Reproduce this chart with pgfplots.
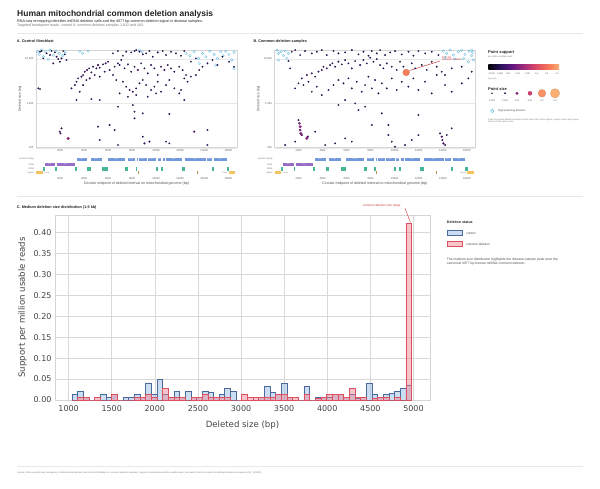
\documentclass[border=0pt]{standalone}
\usepackage{fontspec}
\setmainfont{Liberation Sans}
\newfontfamily\djv{DejaVu Sans}
\usepackage{pgfplots}
\pgfplotsset{compat=1.18}
\newcommand{\fs}[1]{\fontsize{#1}{#1}\selectfont}
\definecolor{txt}{HTML}{222222}
\definecolor{subt}{HTML}{777777}
\definecolor{framec}{HTML}{D5D5D5}
\definecolor{gridc}{HTML}{E8E8E8}
\definecolor{cyanc}{RGB}{95,185,225}
\definecolor{protc}{RGB}{115,152,222}
\definecolor{rrnac}{RGB}{150,110,200}
\definecolor{trnac}{RGB}{70,180,150}
\definecolor{dloopc}{RGB}{242,195,95}
\definecolor{annred}{RGB}{205,45,45}
\definecolor{ctrlfill}{RGB}{140,180,225}
\definecolor{ctrledge}{RGB}{75,105,155}
\definecolor{cdfill}{RGB}{240,125,140}
\definecolor{cdedge}{RGB}{220,80,95}
\definecolor{m0}{RGB}{0,0,4}
\definecolor{m1}{RGB}{40,17,90}
\definecolor{m2}{RGB}{100,22,128}
\definecolor{m3}{RGB}{160,45,125}
\definecolor{m4}{RGB}{215,70,105}
\definecolor{m5}{RGB}{245,115,85}
\definecolor{m6}{RGB}{252,175,115}
\pgfdeclarehorizontalshading{magmabar}{100bp}{color(0bp)=(m0); color(25bp)=(m0); color(33bp)=(m1); color(42bp)=(m2); color(50bp)=(m3); color(58bp)=(m4); color(67bp)=(m5); color(75bp)=(m6); color(100bp)=(m6)}
\pgfplotsset{colormap={mymagma}{rgb255(0cm)=(0,0,4) rgb255(1cm)=(40,17,90) rgb255(2cm)=(100,22,128) rgb255(3cm)=(160,45,125) rgb255(4cm)=(215,70,105) rgb255(5cm)=(245,115,85) rgb255(6cm)=(252,175,115)}}
\pgfplotsset{every axis/.append style={/pgf/number format/assume math mode=true}}
\pgfplotsset{mysupp/.style={scatter, only marks, mark=*,
    point meta={log10(\thisrow{s})},
    scatter/use mapped color={draw=mapped color!75!black, fill=mapped color},
    visualization depends on={0.3+8*sqrt(\thisrow{s})\as\msz},
    scatter/@pre marker code/.append style={/tikz/mark size=\msz},
    line width=0.12pt}}
\newcommand{\gene}[4]{\filldraw[fill=protc, draw=white, line width=0.12pt] (axis cs:#1,15.3) rectangle (axis cs:#2,18.7); \node[font=\fs{1.6}, text=white, inner sep=0] at (axis cs:#3,17) {#4};}
\newcommand{\trna}[2]{\filldraw[fill=trnac, draw=trnac, line width=0.25pt] (axis cs:#1,6) rectangle (axis cs:#2,9);}
\newcommand{\genetrack}{%
  \node[anchor=east, font=\fs{2.3}, text=subt, inner sep=0] at (axis cs:-150,17) {protein coding};
  \node[anchor=east, font=\fs{2.3}, text=subt, inner sep=0] at (axis cs:-150,11.75) {rRNA};
  \node[anchor=east, font=\fs{2.3}, text=subt, inner sep=0] at (axis cs:-150,7.5) {tRNA};
  \node[anchor=east, font=\fs{2.3}, text=subt, inner sep=0] at (axis cs:-150,3) {region};
  \gene{3307}{4262}{3785}{ND1}\gene{4470}{5511}{4990}{ND2}\gene{5904}{7445}{6675}{COX1}
  \gene{7586}{8269}{7928}{COX2}\gene{8366}{8572}{8470}{}\gene{8527}{9207}{8867}{ATP6}
  \gene{9207}{9990}{9600}{COX3}\gene{10059}{10404}{10232}{ND3}\gene{10470}{10766}{10618}{}
  \gene{10760}{12137}{11450}{ND4}\gene{12337}{14148}{13243}{ND5}\gene{14149}{14673}{14411}{ND6}
  \gene{14747}{15887}{15317}{CYB}
  \filldraw[fill=rrnac, draw=white, line width=0.12pt] (axis cs:648,10) rectangle (axis cs:1601,13.5);
  \filldraw[fill=rrnac, draw=white, line width=0.12pt] (axis cs:1671,10) rectangle (axis cs:3229,13.5);
  \node[font=\fs{1.6}, text=white, inner sep=0] at (axis cs:1125,11.75) {12S};
  \node[font=\fs{1.6}, text=white, inner sep=0] at (axis cs:2450,11.75) {16S};
  \trna{577}{647}\trna{1602}{1670}\trna{3230}{3304}\trna{4263}{4331}\trna{4329}{4400}\trna{4402}{4469}
  \trna{5512}{5579}\trna{5587}{5655}\trna{5657}{5729}\trna{5761}{5826}\trna{5826}{5891}
  \trna{7446}{7514}\trna{7518}{7585}\trna{8295}{8364}\trna{9991}{10058}\trna{10405}{10469}
  \trna{12138}{12206}\trna{12207}{12265}\trna{12266}{12336}\trna{14674}{14742}\trna{15888}{15953}\trna{15956}{16023}
  \fill[dloopc] (axis cs:0,1.5) rectangle (axis cs:576,4.5);
  \fill[dloopc] (axis cs:16024,1.5) rectangle (axis cs:16569,4.5);
  \node[anchor=west, font=\fs{1.9}, text=subt, inner sep=0] at (axis cs:640,3) {D-loop};
  \node[anchor=east, font=\fs{1.9}, text=subt, inner sep=0] at (axis cs:15960,3) {D-loop};
  \draw[dloopc!75!black, line width=0.3pt] (axis cs:8470,1.5) -- (axis cs:8470,4.5);
  \draw[dloopc!75!black, line width=0.3pt] (axis cs:13447,1.5) -- (axis cs:13447,4.5);
}
\pgfplotstableread{
x y s
331 14630 0.004
469 15150 0.003
883 13420 0.004
1159 12310 0.005
1297 15150 0.003
1573 14140 0.004
1711 11290 0.006
1849 10000 0.004
2125 10350 0.005
2263 15150 0.003
2401 12740 0.004
2539 9490 0.006
1987 8710 0.005
1435 7990 0.004
607 10350 0.003
193 2180 0.005
331 2100 0.004
2953 2180 0.005
3229 2590 0.006
3367 3080 0.004
3505 3660 0.005
3781 4000 0.006
3919 4360 0.004
4057 5180 0.005
4250 5650 0.007
4416 6160 0.004
4609 5000 0.005
4747 6720 0.006
5023 6160 0.004
5161 7330 0.008
5299 6380 0.005
5575 7580 0.004
5796 7990 0.006
5989 8710 0.005
3643 1830 0.004
3919 2590 0.005
4195 3360 0.004
4471 3660 0.006
4885 4360 0.005
5299 4000 0.004
5713 5180 0.005
6127 5650 0.006
6541 6720 0.004
6817 7990 0.005
7093 9490 0.004
6403 4360 0.005
6679 3360 0.004
6403 13420 0.004
6817 15150 0.005
7231 11890 0.004
7507 14630 0.006
7921 14140 0.004
8197 15150 0.005
8335 15960 0.004
8611 14630 0.006
8887 12740 0.005
9163 13420 0.004
9439 15150 0.005
9715 11290 0.004
10129 14140 0.006
10543 15150 0.004
10819 12310 0.005
11233 14630 0.004
11647 13420 0.005
12061 11890 0.004
12337 15150 0.005
6955 7330 0.005
7369 6160 0.004
7645 7580 0.006
7921 5180 0.005
8197 6720 0.004
8473 5650 0.007
8749 7990 0.005
9025 6160 0.004
9301 4750 0.005
9577 7330 0.006
9853 6160 0.004
10129 4360 0.005
10405 6720 0.004
10681 5650 0.006
10957 7330 0.005
11233 6160 0.004
11509 5180 0.005
11923 6720 0.004
12199 5650 0.005
12475 4360 0.004
7231 3080 0.005
7507 2380 0.004
7783 2000 0.006
8059 1830 0.005
8335 2180 0.004
8611 2830 0.005
8887 3360 0.004
9163 2590 0.006
9577 2000 0.005
9853 2380 0.004
10129 3080 0.005
10405 1830 0.004
10819 2590 0.006
11095 3360 0.005
11509 2180 0.004
12061 2000 0.005
12337 3660 0.004
12613 3080 0.005
12889 4000 0.004
13303 4360 0.005
13579 5650 0.004
6955 1680 0.004
7645 1410 0.005
8335 1540 0.004
9301 1410 0.005
9991 1680 0.004
11923 1680 0.005
12337 1190 0.006
12889 8710 0.004
13303 10350 0.005
13855 6720 0.004
14269 7990 0.005
14683 9490 0.004
15097 7330 0.005
15511 11290 0.004
16063 8710 0.005
16477 6720 0.004
1987 230 0.006
2125 273 0.005
2042 210 0.005
2677 162 0.02
3367 1190 0.005
5161 298 0.006
5299 149 0.005
6127 325 0.006
6541 250 0.005
6817 840 0.004
8059 916 0.005
8197 649 0.004
8197 459 0.005
8887 595 0.006
8887 177 0.005
9025 125 0.006
9439 137 0.005
10819 137 0.004
11095 575 0.005
11095 125 0.004
13165 230 0.008
14269 250 0.005
14269 115 0.006
6817 115 0.004
5299 1190 0.004
4609 1250 0.005
}\darkA
\pgfplotstableread{
x y
110 14630
276 12740
469 15960
607 11290
828 14630
1021 10000
1159 15960
1435 12310
1656 15150
1932 13420
2208 11890
2429 14630
3643 15150
3864 13420
4333 15150
8611 15960
8832 14630
12475 13420
12806 11890
13165 14630
13524 10350
13855 13420
14131 11290
14462 15150
14821 12740
15097 10350
15373 14630
15566 11890
15787 15150
16063 12740
16284 9490
16477 14140
14959 7330
13579 7990
16477 6160
}\cyanA
\pgfplotstableread{
x y s
1441 14630 0.004
1719 15960 0.005
2134 12310 0.004
2550 15150 0.005
3105 13420 0.004
3520 14630 0.006
3936 15960 0.004
4352 12310 0.005
4906 15150 0.004
5322 13420 0.005
5877 14140 0.004
6431 15960 0.006
6985 12740 0.004
7401 14630 0.005
7817 11890 0.004
8094 15150 0.006
8510 13420 0.005
8787 15960 0.004
9203 12310 0.005
9619 14140 0.004
10035 15150 0.005
10589 12740 0.004
11143 14630 0.005
11559 11890 0.004
11975 15150 0.005
12529 13420 0.004
13084 14630 0.005
13638 12310 0.004
1303 6160 0.004
1164 9010 0.005
1719 2180 0.005
1996 2830 0.004
2273 3660 0.005
2412 2590 0.004
2689 4360 0.006
2827 3080 0.004
3105 4750 0.005
3382 4000 0.004
3659 5180 0.006
3936 5650 0.005
4075 6720 0.004
4352 6160 0.006
4629 7330 0.005
4823 7990 0.004
5045 6720 0.005
5322 8710 0.006
5599 7580 0.004
5877 9490 0.005
6154 7990 0.004
6431 6160 0.005
6708 9010 0.004
7124 7330 0.006
7401 9490 0.005
7678 7990 0.004
7956 10720 0.005
8233 8710 0.004
8510 10000 0.006
8787 7330 0.005
9064 6160 0.004
9342 7990 0.005
9757 6720 0.004
10173 5650 0.005
10450 8710 0.004
10728 6720 0.005
11421 7990 0.004
11698 6160 0.005
12252 7330 0.004
12668 5650 0.005
13084 8710 0.004
13500 6720 0.005
13915 5180 0.004
14193 4360 0.005
14747 6160 0.004
15579 6720 0.005
16410 5180 0.004
3105 1830 0.004
3520 2380 0.005
3936 1540 0.004
4491 2000 0.005
4906 2590 0.004
5322 3360 0.006
5738 2830 0.005
6154 3660 0.004
6431 2180 0.005
6847 3080 0.004
7263 1830 0.005
7540 2590 0.004
7817 4000 0.005
8094 2180 0.004
8371 3360 0.006
8649 1680 0.005
8926 2830 0.004
9342 2180 0.005
9757 3660 0.004
10173 2000 0.005
10589 3080 0.004
11143 2380 0.005
11559 3660 0.004
11975 2000 0.005
12529 3080 0.004
13084 1680 0.005
13500 4360 0.004
14193 2590 0.005
14747 1830 0.004
15579 2830 0.005
16133 3660 0.004
6708 1000 0.005
7540 840 0.004
6985 708 0.005
5322 916 0.004
8926 595 0.005
11975 545 0.004
5877 1190 0.005
887 115 0.005
1719 137 0.004
1996 421 0.006
2079 354 0.015
2134 298 0.02
2134 250 0.015
2190 210 0.02
2273 193 0.01
2689 162 0.02
2772 177 0.01
3382 230 0.005
4213 115 0.004
5877 162 0.005
6431 137 0.004
8094 325 0.006
9480 325 0.005
9480 193 0.006
9757 137 0.004
10866 115 0.005
11421 149 0.004
11975 193 0.005
13777 210 0.006
13915 177 0.008
13971 149 0.006
14054 125 0.008
14193 115 0.006
14331 193 0.005
14747 273 0.004
10035 105 0.005
5045 125 0.004
10958 4977 0.15
}\darkB
\pgfplotstableread{
x y
194 15960
333 13420
554 14630
748 11890
887 15150
1026 10350
333 9490
1164 13420
14054 15150
14331 13420
14608 15960
14886 12310
15301 14630
15579 15960
15856 12740
16188 15150
16410 11890
16500 14140
15717 10350
15024 10000
16133 8710
16550 9490
14193 10720
16410 15960
}\cyanB
\pgfplotstableread{
e c d
1039.0 0.014 0
1104.6 0.021 0.007
1170.3 0.007 0.007
1235.9 0 0
1301.5 0 0.007
1367.2 0.014 0
1432.8 0.007 0
1498.4 0.014 0.014
1564.0 0 0
1629.7 0.007 0
1695.3 0.007 0
1760.9 0.014 0.007
1826.6 0.007 0.007
1892.2 0.041 0.014
1957.8 0.014 0.007
2023.5 0.050 0
2089.1 0.014 0.028
2154.7 0.007 0.007
2220.3 0.021 0.007
2286.0 0.007 0.007
2351.6 0.021 0
2417.2 0.007 0.007
2482.9 0.007 0.007
2548.5 0.021 0.014
2614.1 0.018 0.007
2679.8 0.007 0.007
2745.4 0.014 0.007
2811.0 0.028 0.007
2876.6 0.021 0
2942.3 0 0
3007.9 0 0.014
3073.5 0 0.007
3139.2 0 0.007
3204.8 0.007 0.007
3270.4 0.032 0.007
3336.1 0.018 0.007
3401.7 0.014 0.014
3467.3 0.040 0.014
3532.9 0.007 0.007
3598.6 0 0.007
3664.2 0 0
3729.8 0.033 0.014
3795.5 0 0
3861.1 0.007 0.003
3926.7 0.007 0.007
3992.4 0.007 0.014
4058.0 0.014 0.014
4123.6 0.014 0.014
4189.2 0.007 0.007
4254.9 0.014 0.028
4320.5 0.004 0.007
4386.1 0.007 0.007
4451.8 0.040 0
4517.4 0.014 0.003
4583.0 0.007 0.007
4648.7 0.014 0.007
4714.3 0.016 0
4779.9 0.021 0.007
4845.5 0.028 0
4911.2 0.036 0.421
4976.8 0 0
}\histtab
\begin{document}
\begin{tikzpicture}[x=1pt,y=1pt]
\path[use as bounding box] (0,0) rectangle (600,488);
% header
\node[anchor=base west, inner sep=0, font=\fs{8.5}\bfseries, text=txt] at (17,471) {Human mitochondrial common deletion analysis};
\node[anchor=base west, inner sep=0, font=\fs{3.7}, text=txt] at (17,465.7) {RNA-seq remapping identifies mtDNA deletion calls and the 4977 bp common deletion signal in disease samples.};
\node[anchor=base west, inner sep=0, font=\fs{3.6}, text=subt] at (17,461.7) {Targeted breakpoint reads: control 8; common-deletion samples 1,832 and 183.};
\draw[gridc, line width=0.6pt] (17,454.7) -- (583,454.7);
\draw[gridc, line width=0.6pt] (17,291.3) -- (583,291.3);
\draw[gridc, line width=0.6pt] (17,22) -- (583,22);
\node[anchor=base west, inner sep=0, font=\fs{3.8}\bfseries, text=txt] at (16.7,445.5) {A. Control fibroblast};
\node[anchor=base west, inner sep=0, font=\fs{3.8}\bfseries, text=txt] at (253.3,445.5) {B. Common-deletion samples};
\node[anchor=base west, inner sep=0, font=\fs{3.8}\bfseries, text=txt] at (16.7,279) {C. Medium deletion size distribution (1-5 kb)};
\node[anchor=west, inner sep=0, font=\fs{2.3}, text=subt] at (17,14.7) {Source: RNA-seq split-read remapping of mitochondrial deletion calls (control fibroblast vs. common-deletion samples); support normalized per million usable reads; annotation from the revised Cambridge Reference Sequence (NC\_012920).};
\node[rotate=90, font=\fs{3.4}, text=txt!80, inner sep=0] at (20,389.2) {Deleted size (bp)};
\node[rotate=90, font=\fs{3.4}, text=txt!80, inner sep=0] at (258.5,389.2) {Deleted size (bp)};
\node[font=\fs{3.6}, text=txt!80, inner sep=0] at (136.4,304.5) {Circular midpoint of deleted interval on mitochondrial genome (bp)};
\node[font=\fs{3.6}, text=txt!80, inner sep=0] at (374.8,304.5) {Circular midpoint of deleted interval on mitochondrial genome (bp)};
% Panel A
\begin{axis}[ymode=log, at={(36pt,340.3pt)}, scale only axis, width=200.7pt, height=97.7pt, anchor=south west,
    xmin=0, xmax=16700, ymin=100, ymax=16000, scaled x ticks=false,
    axis line style={framec, line width=0.4pt},
    xtick={2000,4000,6000,8000,10000,12000,14000,16000}, ytick={100,1000,10000}, yticklabels={100,{1,000},{10,000}},
    xticklabels={2000,4000,6000,8000,10000,12000,14000,16000},
    major tick length=0pt, tick style={draw=none},
    tick label style={font=\fs{2.7}, text=subt!70!black, inner sep=0pt},
    xticklabel style={yshift=-2pt}, yticklabel style={xshift=-2.5pt},
    ymajorgrids, grid style={gridc, line width=0.3pt},
    colormap name=mymagma, point meta min=-2.699, point meta max=-0.523]
\addplot[only marks, mark=o, mark size=1.3pt, draw=cyanc, line width=0.3pt] table[x=x,y=y] {\cyanA};
\addplot[mysupp] table[x=x,y=y] {\darkA};
\end{axis}
\begin{axis}[at={(36pt,312pt)}, scale only axis, width=200.7pt, height=21pt, anchor=south west,
    xmin=0, xmax=16700, ymin=0, ymax=21, axis line style={draw=none}, scaled x ticks=false,
    ytick=\empty, xtick={2000,4000,6000,8000,10000,12000,14000,16000},
    xticklabels={2000,4000,6000,8000,10000,12000,14000,16000},
    major tick length=0pt, tick style={draw=none},
    tick label style={font=\fs{2.7}, text=subt!70!black, inner sep=0pt},
    xticklabel style={yshift=-1pt}, clip=false]
\genetrack
\end{axis}
% Panel B
\begin{axis}[ymode=log, at={(274.5pt,340.3pt)}, scale only axis, width=200.7pt, height=97.7pt, anchor=south west,
    xmin=0, xmax=16700, ymin=100, ymax=16000, scaled x ticks=false,
    axis line style={framec, line width=0.4pt},
    xtick={2000,4000,6000,8000,10000,12000,14000,16000}, ytick={100,1000,10000}, yticklabels={100,{1,000},{10,000}},
    xticklabels={2000,4000,6000,8000,10000,12000,14000,16000},
    major tick length=0pt, tick style={draw=none},
    tick label style={font=\fs{2.7}, text=subt!70!black, inner sep=0pt},
    xticklabel style={yshift=-2pt}, yticklabel style={xshift=-2.5pt},
    ymajorgrids, grid style={gridc, line width=0.3pt},
    colormap name=mymagma, point meta min=-2.699, point meta max=-0.523]
\addplot[only marks, mark=o, mark size=1.3pt, draw=cyanc, line width=0.3pt] table[x=x,y=y] {\cyanB};
\addplot[mysupp] table[x=x,y=y] {\darkB};
\draw[annred, line width=0.45pt] (axis cs:13767,9014) -- (axis cs:11233,5505);
\node[anchor=west, align=left, font=\fs{2.6}, text=annred, inner sep=0] at (axis cs:13910,10263) {4977 bp\\common deletion};
\end{axis}
\begin{axis}[at={(274.5pt,312pt)}, scale only axis, width=200.7pt, height=21pt, anchor=south west,
    xmin=0, xmax=16700, ymin=0, ymax=21, axis line style={draw=none}, scaled x ticks=false,
    ytick=\empty, xtick={2000,4000,6000,8000,10000,12000,14000,16000},
    xticklabels={2000,4000,6000,8000,10000,12000,14000,16000},
    major tick length=0pt, tick style={draw=none},
    tick label style={font=\fs{2.7}, text=subt!70!black, inner sep=0pt},
    xticklabel style={yshift=-1pt}, clip=false]
\genetrack
\end{axis}
% right legend
\node[anchor=west, inner sep=0, font=\fs{4}\bfseries, text=txt] at (488,436) {Point support};
\node[anchor=west, inner sep=0, font=\fs{2.3}, text=subt] at (488,431.5) {per million usable reads};
\shade[shading=magmabar] (488.3,418) rectangle (559,423.7);
\foreach \xx/\lab in {491.7/0.002,500/0.005,508.3/0.01,517.7/0.02,527.7/0.05,536.7/0.1,546.7/0.2,557.3/0.3}{
  \node[font=\fs{2.3}, text=txt!80, inner sep=0] at (\xx,414.7) {\lab};}
\node[anchor=west, inner sep=0, font=\fs{2.1}, text=subt] at (488,409) {log scale};
\node[anchor=west, inner sep=0, font=\fs{4}\bfseries, text=txt] at (488,399) {Point size};
\foreach \xx/\lab in {492/0.002,505/0.005,517/0.02,530/0.05,542/0.2,555/0.3}{
  \node[font=\fs{2.3}, text=txt!80, inner sep=0] at (\xx,387.3) {\lab};}
\node[anchor=west, inner sep=0, font=\fs{2.7}, text=txt!80] at (498,377) {high-spanning deletion};
\node[anchor=north west, align=left, inner sep=0, font=\fs{2.2}, text=subt] at (488,369.5) {Cyan rings mark deletions whose interval spans the control region, support within each group\\shown on the same scale.};
\begin{axis}[at={(480pt,358pt)}, anchor=south west, scale only axis, width=120pt, height=90pt, xmin=480, xmax=600, ymin=358, ymax=448, hide axis, clip=false, colormap name=mymagma, point meta min=-2.699, point meta max=-0.523]
\addplot[mysupp] table[x=x,y=y] {
x y s
492 394.7 0.002
505 394.7 0.005
517 394.7 0.02
530 394.7 0.05
542 394.7 0.2
555 394.7 0.3
};
\addplot[only marks, mark=o, mark size=1.7pt, draw=cyanc, line width=0.5pt] coordinates {(492.3,377)};
\end{axis}
% Panel C
\begin{axis}[at={(55pt,88pt)}, anchor=south west, scale only axis, width=375pt, height=185pt,
  xmin=842, xmax=5192, ymin=0, ymax=0.4415,
  xtick={1000,1500,2000,2500,3000,3500,4000,4500,5000},
  xticklabels={1000,1500,2000,2500,3000,3500,4000,4500,5000},
  ytick={0,0.05,0.1,0.15,0.2,0.25,0.3,0.35,0.4},
  yticklabels={0.00,0.05,0.10,0.15,0.20,0.25,0.30,0.35,0.40},
  axis line style={framec, line width=0.5pt},
  grid=major, grid style={gridc!85!gray, line width=0.5pt},
  major tick length=0pt, tick style={draw=none},
  tick label style={font=\djv\fs{8}, text=txt!85},
  xticklabel style={yshift=-2.5pt},
  xlabel={Deleted size (bp)}, ylabel={Support per million usable reads},
  xlabel style={yshift=-2pt},
  label style={font=\djv\fs{8.6}, text=txt!85},
  clip=false]
\addplot[ybar interval, fill=ctrlfill, fill opacity=0.45, draw=ctrledge, line width=0.5pt] table[x=e,y=c] {\histtab};
\addplot[ybar interval, fill=cdfill, fill opacity=0.45, draw=cdedge, line width=0.5pt] table[x=e,y=d] {\histtab};
\draw[annred, line width=0.4pt] (axis cs:4902,0.4575) -- (axis cs:4965,0.424);
\node[font=\fs{3}, text=annred, inner sep=0] at (axis cs:4632,0.4637) {common deletion size range};
\end{axis}
% legend C
\node[anchor=west, inner sep=0, font=\fs{3.6}\bfseries, text=txt] at (446.7,265.3) {Deletion status};
\filldraw[fill=ctrlfill!45, draw=ctrledge, line width=0.5pt] (447.3,252.7) rectangle (462,257.3);
\node[anchor=west, inner sep=0, font=\fs{3.1}, text=txt!85] at (466,255) {control};
\filldraw[fill=cdfill!45, draw=cdedge, line width=0.5pt] (447.3,241.3) rectangle (462,246.3);
\node[anchor=west, inner sep=0, font=\fs{3.1}, text=txt!85] at (466,243.8) {common deletion};
\node[anchor=north west, align=left, inner sep=0, font=\fs{3.4}, text=txt!80] at (446.7,229.8) {The medium-size distribution highlights the disease-sample peak near the\\canonical 4977 bp human mtDNA common deletion.};
\end{tikzpicture}
\end{document}
